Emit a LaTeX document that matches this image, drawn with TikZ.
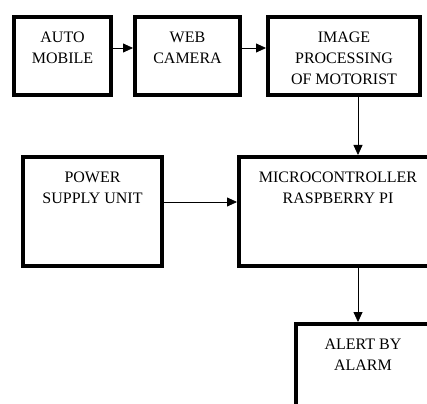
\documentclass[tikz,border=0pt]{standalone}
\usepackage{fontspec}
\setmainfont{Liberation Serif}
\usetikzlibrary{arrows.meta}
\tikzset{
  blockbox/.style 2 args={draw, line width=4pt, minimum width=#1, minimum height=#2, inner sep=0pt},
  caption/.style={anchor=north, yshift=-17pt, align=center, inner sep=0pt},
  link/.style={->, line width=0.8pt},
}
\begin{document}
\begin{tikzpicture}[x=1pt, y=-1pt, >={Triangle[length=10pt,width=9pt]},
    font=\fontsize{16}{21}\selectfont]
            \clip (0,0) rectangle (427,403);
            \node[blockbox={97pt}{78pt}, label={[caption]north:{AUTO\\MOBILE}}] (auto) at (62.5,56) {};
            \node[blockbox={105pt}{78pt}, label={[caption]north:{WEB\\CAMERA}}] (web) at (187.5,56) {};
            \node[blockbox={152pt}{78pt}, label={[caption]north:{IMAGE\\PROCESSING\\OF MOTORIST}}] (img) at (344,56) {};
            \node[blockbox={139pt}{109pt}, label={[caption]north:{POWER\\SUPPLY UNIT}}] (power) at (92.5,211.5) {};
            \node[blockbox={198pt}{109pt}, label={[caption]north:{MICROCONTROLLER\\RASPBERRY PI}}] (micro) at (338,211.5) {};
            \node[blockbox={134pt}{120pt}, label={[caption]north:{ALERT BY\\ALARM}}] (alert) at (363,384) {};
            \coordinate (row) at (0,48);
            \coordinate (feed) at (0,202);
            \coordinate (drop) at (358,0);
            \draw[link] (auto.east |- row) -- (web.west |- row);
            \draw[link] (web.east |- row) -- (img.west |- row);
            \draw[link] (drop |- img.south) -- (drop |- micro.north);
            \draw[link] (power.east |- feed) -- (micro.west |- feed);
            \draw[link] (drop |- micro.south) -- (drop |- alert.north);
        \end{tikzpicture}
\end{document}
